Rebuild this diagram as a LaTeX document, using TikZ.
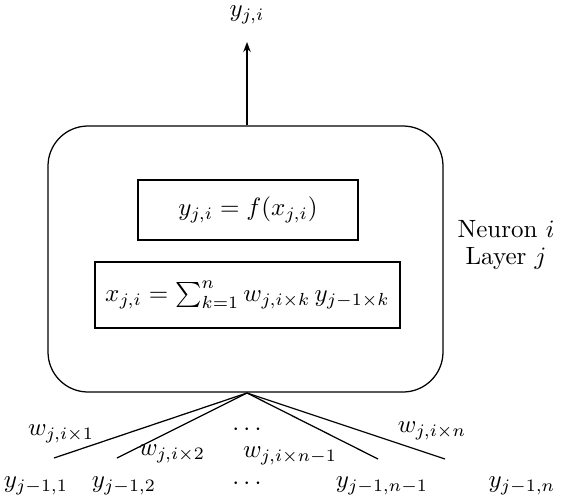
\documentclass[tikz,border=0pt]{standalone}
\usetikzlibrary{arrows.meta}
\begin{document}
\begin{tikzpicture}[x=0.4pt,y=-0.4pt,
  box/.style={draw,line width=0.5pt,inner sep=0pt},
  lab/.style={inner sep=0pt,font=\normalsize},
  conn/.style={line width=0.5pt}]
\useasboundingbox (0,0) rectangle (568,501);
% outer neuron
\node[box,rounded corners=16pt,minimum width=395*0.4pt,minimum height=266*0.4pt] (neuron) at (245.5,259) {};
\node[box,minimum width=220*0.4pt,minimum height=60*0.4pt] (act) at (248,210) {$y_{j,i} = f(x_{j,i})$};
\node[box,minimum width=305*0.4pt,minimum height=66*0.4pt] (sum) at (247.5,295) {$x_{j,i} = \sum_{k=1}^{n} w_{j,i\times k}\, y_{j-1\times k}$};
% output
\node[lab] (out) at (247,15) {$y_{j,i}$};
\coordinate (top) at (247,42);
\draw[conn,-{Stealth[length=4pt,width=3pt]}] (neuron.north -| top) -- (top);
\node[lab,align=center] (desc) at (506,245) {Neuron $i$\\[-1pt]Layer $j$};
% inputs
\coordinate (c) at (247,393);
\coordinate (e1) at (54,458);
\coordinate (e2) at (117,458);
\coordinate (e3) at (378,459);
\coordinate (e4) at (445,459);
\draw[conn] (c) -- (e1);
\draw[conn] (c) -- (e2);
\draw[conn] (c) -- (e3);
\draw[conn] (c) -- (e4);
\node[lab] (w1) at (61,434) {$w_{j,i\times 1}$};
\node[lab] (w2) at (172,454) {$w_{j,i\times 2}$};
\node[lab] (wd) at (247,430) {$\cdots$};
\node[lab] (wn1) at (290,456) {$w_{j,i\times n-1}$};
\node[lab] (wn) at (432,431) {$w_{j,i\times n}$};
\node[lab] (y1) at (36,486) {$y_{j-1,1}$};
\node[lab] (y2) at (124,486) {$y_{j-1,2}$};
\node[lab] (yd) at (247,484) {$\cdots$};
\node[lab] (yn1) at (382,486) {$y_{j-1,n-1}$};
\node[lab] (yn) at (522,486) {$y_{j-1,n}$};
\end{tikzpicture}
\end{document}
